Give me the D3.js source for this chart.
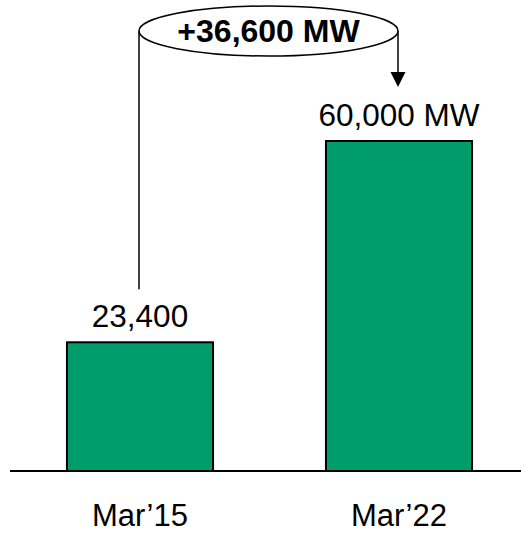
<!DOCTYPE html>
<html>
    <head>
        <meta charset="utf-8">
        <title>Capacity Growth</title>
        <script src="https://cdn.jsdelivr.net/npm/d3@7/dist/d3.min.js"></script>
    </head>

    <style>
        body {
            margin: 0;
            background: #fff;
        }
        text {
            font-family: "Liberation Sans", Arial, sans-serif;
            fill: #000;
        }
    </style>

    <body>
    <div id="chart"></div>
        <script>
            (function(d3) {
                'use strict';

                var categories = ['Mar\u201915', 'Mar\u201922'];
                var values = [23400, 60000];
                var valueLabels = ['23,400', '60,000 MW'];
                var changeLabel = '+36,600 MW';

                var width = 521;
                var height = 533;
                var baseY = 471;

                var svg = d3.select('#chart')
                    .append('svg')
                    .attr('width', width)
                    .attr('height', height);

                var x = d3.scaleBand()
                    .domain(categories)
                    .range([10.5, 528.5])
                    .paddingInner(0.436)
                    .paddingOuter(0.218);

                var y = d3.scaleLinear()
                    .domain([0, 60000])
                    .range([baseY, 141]);

                svg.selectAll('rect.bar')
                    .data(values)
                    .enter()
                    .append('rect')
                    .attr('class', 'bar')
                    .attr('x', function(d, i) { return x(categories[i]); })
                    .attr('y', function(d) { return y(d); })
                    .attr('width', x.bandwidth())
                    .attr('height', function(d) { return baseY - y(d); })
                    .attr('fill', '#009c6c')
                    .attr('stroke', '#000')
                    .attr('stroke-width', 2);

                // baseline
                svg.append('line')
                    .attr('x1', 10)
                    .attr('x2', width)
                    .attr('y1', baseY)
                    .attr('y2', baseY)
                    .attr('stroke', '#000')
                    .attr('stroke-width', 2);

                svg.selectAll('text.value')
                    .data(values)
                    .enter()
                    .append('text')
                    .attr('class', 'value')
                    .attr('x', function(d, i) { return x(categories[i]) + x.bandwidth() / 2; })
                    .attr('y', function(d) { return y(d) - 15; })
                    .attr('text-anchor', 'middle')
                    .style('font-size', '31.5px')
                    .text(function(d, i) { return valueLabels[i]; });

                svg.selectAll('text.cat')
                    .data(categories)
                    .enter()
                    .append('text')
                    .attr('class', 'cat')
                    .attr('x', function(d) { return x(d) + x.bandwidth() / 2; })
                    .attr('y', 526)
                    .attr('text-anchor', 'middle')
                    .style('font-size', '31px')
                    .text(function(d) { return d; });

                // change annotation
                var x1 = x(categories[0]) + x.bandwidth() / 2 - 1;
                var x2 = x(categories[1]) + x.bandwidth() / 2 - 1;
                var cx = (x1 + x2) / 2;
                var cy = 31;
                var rx = (x2 - x1) / 2;

                svg.append('line')
                    .attr('x1', x1).attr('x2', x1)
                    .attr('y1', cy).attr('y2', y(values[0]) - 53)
                    .attr('stroke', '#000')
                    .attr('stroke-width', 1.5);

                svg.append('line')
                    .attr('x1', x2).attr('x2', x2)
                    .attr('y1', cy).attr('y2', 74)
                    .attr('stroke', '#000')
                    .attr('stroke-width', 1.5);

                svg.append('path')
                    .attr('d', 'M' + (x2 - 7.5) + ',72L' + (x2 + 7.5) + ',72L' + x2 + ',87Z')
                    .attr('fill', '#000');

                svg.append('ellipse')
                    .attr('cx', cx)
                    .attr('cy', cy)
                    .attr('rx', rx)
                    .attr('ry', 25)
                    .attr('fill', '#fff')
                    .attr('stroke', '#000')
                    .attr('stroke-width', 1.5);

                svg.append('text')
                    .attr('x', cx)
                    .attr('y', 42)
                    .attr('text-anchor', 'middle')
                    .style('font-size', '32px')
                    .style('font-weight', 'bold')
                    .text(changeLabel);

            })(window.d3);
        </script>
    </body>
</html>
